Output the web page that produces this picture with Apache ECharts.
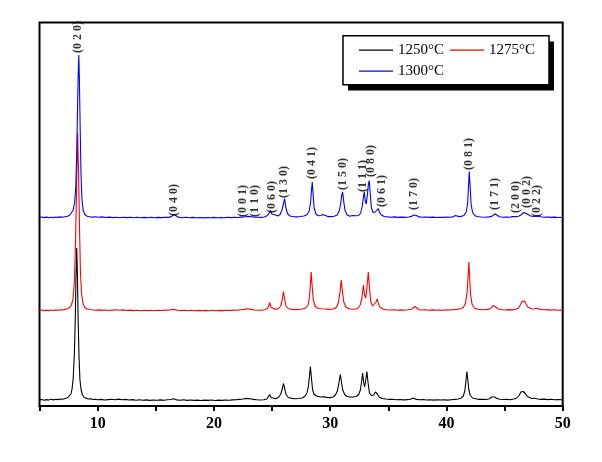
<!DOCTYPE html>
<html>
<head>
<meta charset="utf-8">
<script src="https://cdn.jsdelivr.net/npm/echarts@6/dist/echarts.min.js"></script>
<style>
html,body{margin:0;padding:0;background:#fff;}
#chart{width:602px;height:462px;}
</style>
</head>
<body>
<div id="chart"></div>
<script>
// ---- data (2θ in degrees, intensity in arbitrary units) ----
const seriesNames = ['1250°C', '1275°C', '1300°C'];
const seriesColors = ['#000000', '#ff0000', '#0000ff'];
const seriesOffsets = [4, 94, 187];

const pattern1250 = [[5.0,2],[5.2,2.6],[5.4,1.8],[5.6,2.4],[5.8,2],[6.0,2.7],[6.2,2.1],[6.4,2.8],[6.6,2.4],[6.8,3],[7.0,2.8],[7.2,3.5],[7.4,4.2],[7.55,5.5],[7.7,8],[7.8,13],[7.9,24],[8.0,48],[8.08,85],[8.14,125],[8.2,154],[8.26,128],[8.32,85],[8.4,45],[8.48,22],[8.58,12],[8.7,7],[8.85,4.5],[9.0,3.8],[9.2,3],[9.4,3.2],[9.6,2.5],[9.8,2.8],[10.0,2.2],[10.3,2.6],[10.6,2],[10.9,2.4],[11.2,2.8],[11.5,2.2],[11.8,2.9],[12.1,2.3],[12.4,2.6],[12.7,2],[13.0,2.4],[13.3,1.8],[13.6,2.2],[13.9,1.7],[14.2,2.1],[14.5,1.6],[14.8,2],[15.1,1.7],[15.4,2.1],[15.7,1.8],[16.0,2.3],[16.3,2.5],[16.55,3.2],[16.8,2.1],[17.1,1.8],[17.4,2.2],[17.7,1.6],[18.0,2],[18.3,1.6],[18.6,1.9],[18.9,1.5],[19.2,1.9],[19.5,1.6],[19.8,2],[20.1,1.5],[20.4,1.9],[20.7,1.6],[21.0,2],[21.3,1.7],[21.6,2.1],[21.9,2.2],[22.2,2.6],[22.5,3],[22.8,3.6],[23.1,3.2],[23.4,2.6],[23.7,2.2],[24.0,2],[24.3,2.3],[24.55,3],[24.7,5],[24.8,7.5],[24.9,4.5],[25.05,3],[25.3,3.2],[25.55,4.5],[25.75,8],[25.9,14],[25.98,18.5],[26.08,14],[26.2,7.5],[26.4,4.5],[26.7,3.6],[27.0,3.2],[27.3,3.5],[27.6,4],[27.85,6],[28.0,9],[28.12,15],[28.22,26],[28.3,35.5],[28.38,25],[28.48,13],[28.6,8],[28.8,6],[29.0,5.5],[29.2,5],[29.45,5.3],[29.7,4.6],[30.0,4.4],[30.25,5],[30.45,7],[30.62,11],[30.75,19],[30.87,27.5],[30.97,20],[31.08,12],[31.25,7.5],[31.45,5.5],[31.7,5],[32.0,5],[32.25,5.5],[32.45,7.5],[32.6,12],[32.7,20],[32.79,29],[32.88,20],[32.96,15],[33.05,21],[33.16,30.5],[33.26,19],[33.38,9],[33.55,6.5],[33.75,7],[33.88,10],[33.96,11.5],[34.06,8],[34.2,5],[34.45,3.5],[34.8,3],[35.1,2.6],[35.4,2.8],[35.7,2.3],[36.0,2.5],[36.3,2.1],[36.6,2.4],[36.9,2.8],[37.14,4],[37.4,2.6],[37.7,2.2],[38.0,2.5],[38.3,2],[38.6,2.3],[38.9,1.9],[39.2,2.3],[39.5,2],[39.8,2.2],[40.1,1.9],[40.4,2.3],[40.7,2.6],[41.0,3],[41.25,3.8],[41.45,6],[41.58,11],[41.68,21],[41.76,30.5],[41.84,22],[41.93,12],[42.05,6.5],[42.25,4],[42.5,3.2],[42.8,2.6],[43.1,2.8],[43.4,2.5],[43.7,3.2],[43.9,5],[44.02,6.5],[44.15,5],[44.35,3.5],[44.6,2.8],[44.9,2.5],[45.2,2.8],[45.5,2.3],[45.8,3],[46.05,4],[46.25,6.5],[46.4,10],[46.5,12],[46.6,10.5],[46.7,11],[46.82,8],[46.95,5.5],[47.15,4.5],[47.35,3.5],[47.6,3.8],[47.85,3],[48.1,2.6],[48.4,2.9],[48.7,2.4],[49.0,2.7],[49.3,2.2],[49.6,2.5],[50.0,2.2]];

const pattern1275 = [[5.0,1.5],[5.2,2],[5.4,1.3],[5.6,1.9],[5.8,1.4],[6.0,2],[6.2,1.5],[6.4,2.1],[6.6,1.7],[6.8,2.2],[7.0,2],[7.2,2.6],[7.4,3.2],[7.6,4.5],[7.75,7],[7.88,13],[8.0,30],[8.1,70],[8.2,130],[8.28,179],[8.36,140],[8.44,85],[8.52,40],[8.62,18],[8.75,8],[8.9,4.5],[9.1,3],[9.3,2.5],[9.5,2.2],[9.8,1.8],[10.1,2.1],[10.4,1.6],[10.7,2],[11.0,1.5],[11.3,1.9],[11.6,2.2],[11.9,1.7],[12.2,2.1],[12.5,1.5],[12.8,1.9],[13.1,1.4],[13.4,1.8],[13.7,1.3],[14.0,1.7],[14.3,1.4],[14.6,1.8],[14.9,1.3],[15.2,1.7],[15.5,1.5],[15.8,1.9],[16.1,1.8],[16.35,2.5],[16.5,3.5],[16.65,2.4],[16.9,1.7],[17.2,1.4],[17.5,1.8],[17.8,1.3],[18.1,1.7],[18.4,1.3],[18.7,1.6],[19.0,1.2],[19.3,1.6],[19.6,1.3],[19.9,1.7],[20.2,1.3],[20.5,1.6],[20.8,1.4],[21.1,1.8],[21.4,1.5],[21.7,1.9],[22.0,1.7],[22.3,2.2],[22.6,2.6],[22.9,3.2],[23.2,2.6],[23.5,2],[23.8,1.8],[24.1,1.7],[24.35,2.2],[24.6,3.5],[24.72,6],[24.8,9.5],[24.9,5],[25.05,3],[25.3,2.6],[25.55,3.5],[25.75,6],[25.88,12],[25.98,20.5],[26.08,13],[26.2,6],[26.4,3.5],[26.7,2.6],[27.0,2.4],[27.3,2.6],[27.6,3],[27.9,4],[28.1,7],[28.22,15],[28.3,28],[28.37,40],[28.45,26],[28.55,12],[28.7,6],[28.9,4],[29.1,3.5],[29.3,3.2],[29.45,4],[29.6,3],[29.85,2.6],[30.1,2.8],[30.35,3.2],[30.55,5],[30.72,10],[30.85,20],[30.95,32],[31.05,21],[31.17,10],[31.35,5],[31.6,3.2],[31.9,2.8],[32.2,3],[32.4,4],[32.58,7],[32.72,13],[32.86,27],[32.96,17],[33.06,14],[33.16,24],[33.28,40],[33.38,24],[33.5,10],[33.65,6],[33.82,7.5],[33.95,10],[34.05,13],[34.15,8],[34.3,4.5],[34.55,2.8],[34.9,2.3],[35.2,2],[35.5,2.3],[35.8,1.8],[36.1,2.1],[36.4,1.8],[36.7,2.2],[37.0,2.8],[37.15,3.8],[37.28,5.5],[37.42,3.5],[37.65,2.3],[37.9,2],[38.2,2.2],[38.5,1.8],[38.8,2.1],[39.1,1.7],[39.4,2],[39.7,1.8],[40.0,2.1],[40.3,2],[40.6,2.4],[40.9,2.6],[41.2,3.2],[41.45,4.5],[41.65,9],[41.78,20],[41.86,35],[41.93,50],[42.0,33],[42.08,17],[42.2,8],[42.4,4],[42.7,2.8],[43.0,2.4],[43.3,2.2],[43.6,2.6],[43.85,4],[44.0,6.5],[44.12,8.2],[44.24,5],[44.45,3],[44.75,2.3],[45.05,2],[45.35,2.4],[45.65,2.1],[45.95,2.8],[46.2,4],[46.38,7.5],[46.5,10.5],[46.6,9.5],[46.72,11],[46.85,8],[47.0,5],[47.2,3.8],[47.4,3],[47.6,3.2],[47.82,3.8],[48.05,2.6],[48.35,2.2],[48.65,2.4],[48.95,1.9],[49.25,2.2],[49.55,1.8],[49.8,2],[50.0,1.8]];

const pattern1300 = [[5.0,1.5],[5.2,2],[5.4,1.4],[5.6,1.9],[5.8,1.3],[6.0,1.8],[6.2,1.4],[6.4,2],[6.6,1.6],[6.8,2.1],[7.0,1.8],[7.2,2.3],[7.4,2.8],[7.6,3.8],[7.75,5.5],[7.9,9],[8.02,16],[8.12,32],[8.2,65],[8.27,110],[8.33,145],[8.38,164],[8.43,140],[8.5,90],[8.57,45],[8.65,20],[8.75,9],[8.9,4.5],[9.1,2.8],[9.3,2.3],[9.5,1.9],[9.8,2.2],[10.1,1.7],[10.4,2.1],[10.7,1.5],[11.0,1.9],[11.3,1.4],[11.6,1.8],[11.9,1.3],[12.2,1.7],[12.5,1.4],[12.8,1.8],[13.1,1.3],[13.4,1.7],[13.7,1.2],[14.0,1.6],[14.3,1.3],[14.6,1.7],[14.9,1.2],[15.2,1.6],[15.5,1.4],[15.8,1.8],[16.1,1.6],[16.35,2.4],[16.55,4.5],[16.72,2.5],[17.0,1.6],[17.3,1.3],[17.6,1.7],[17.9,1.2],[18.2,1.6],[18.5,1.2],[18.8,1.5],[19.1,1.1],[19.4,1.5],[19.7,1.2],[20.0,1.6],[20.3,1.2],[20.6,1.5],[20.9,1.3],[21.2,1.7],[21.5,1.4],[21.8,1.8],[22.1,1.5],[22.4,1.9],[22.7,2.2],[23.0,2.6],[23.25,2.2],[23.5,1.8],[23.8,1.7],[24.1,1.6],[24.35,2],[24.6,3.5],[24.75,6],[24.87,8.5],[24.98,5],[25.12,3.5],[25.3,4],[25.5,3],[25.7,4.5],[25.85,9],[25.98,15],[26.08,20.5],[26.18,12],[26.32,5.5],[26.55,3],[26.85,2.3],[27.15,2.1],[27.45,2.5],[27.75,3],[28.0,4.2],[28.2,8],[28.32,17],[28.4,30],[28.46,37],[28.53,25],[28.62,11],[28.78,5],[28.98,3.2],[29.2,3.5],[29.38,4.5],[29.55,3],[29.8,2.4],[30.1,2.4],[30.35,2.8],[30.6,4],[30.78,8],[30.9,15],[31.0,24],[31.07,27],[31.15,19],[31.27,9],[31.45,4],[31.7,2.8],[31.9,3.5],[32.04,4.5],[32.2,3.2],[32.45,3.5],[32.62,6],[32.76,13],[32.86,22],[32.93,27],[33.02,18],[33.1,15],[33.2,24],[33.29,35],[33.36,38.5],[33.44,26],[33.55,11],[33.7,6.5],[33.88,7],[34.02,9],[34.13,10.5],[34.24,7],[34.4,4],[34.65,2.5],[34.95,2.1],[35.25,1.8],[35.55,2.1],[35.85,1.6],[36.15,1.9],[36.45,1.6],[36.75,2],[37.0,2.6],[37.18,4],[37.3,5.2],[37.42,3.5],[37.65,2.1],[37.95,1.8],[38.25,2],[38.55,1.6],[38.85,1.9],[39.15,1.5],[39.45,1.8],[39.75,1.6],[40.05,1.9],[40.35,1.8],[40.6,2.4],[40.8,3.5],[41.0,2.6],[41.25,2.4],[41.5,3.5],[41.7,7],[41.82,15],[41.9,33],[41.96,47.5],[42.03,34],[42.12,15],[42.25,6.5],[42.45,3.3],[42.75,2.3],[43.05,2],[43.35,1.8],[43.65,2.1],[43.9,2.6],[44.05,4],[44.19,5.2],[44.32,3.5],[44.55,2.2],[44.85,1.8],[45.15,2],[45.45,1.7],[45.65,2.5],[45.8,3],[45.95,2.4],[46.2,2.8],[46.4,4],[46.55,5.5],[46.65,6.5],[46.74,7.2],[46.86,5.5],[47.0,3.8],[47.2,3.2],[47.45,2.5],[47.7,2.8],[47.9,3],[48.1,2.3],[48.4,1.8],[48.7,2],[49.0,1.6],[49.3,1.9],[49.6,1.5],[50.0,1.7]];

// Miller-index annotations above the 1300°C pattern
const hklNames  = ['(0 2 0)','(0 4 0)','(0 0 1)','(1 1 0)','(0 6 0)','(1 3 0)','(0 4 1)','(1 5 0)','(1 1 1)','(0 8 0)','(0 6 1)','(1 7 0)','(0 8 1)','(1 7 1)','(2 0 0)','(0 0 2)','(0 2 2)'];
const hklAngles = [8.33, 16.57, 22.52, 23.49, 24.97, 26.05, 28.46, 31.07, 32.84, 33.5, 34.42, 37.23, 41.96, 44.17, 45.97, 46.89, 47.75];
const hklLabelY = [353, 190, 189, 189, 193, 208, 227, 216, 214, 229, 199, 196, 236, 196, 193, 198, 189];

// x-axis ticks
const xMin = 5, xMax = 50, xTickStep = 5, xLabelStep = 10;

// ---- chart ----
const patterns = [pattern1250, pattern1275, pattern1300];
const serif = "'Times New Roman', 'Liberation Serif', serif";

const lineSeries = patterns.map((p, i) => ({
  name: seriesNames[i],
  type: 'line',
  data: p.map(d => [d[0], d[1] + seriesOffsets[i]]),
  symbol: 'none',
  showSymbol: false,
  smooth: false,
  lineStyle: { color: seriesColors[i], width: 1.1 },
  itemStyle: { color: seriesColors[i] },
  silent: true,
  z: 2 + i
}));

const labelSeries = {
  type: 'scatter',
  data: hklAngles.map((a, i) => ({ value: [a, hklLabelY[i]], name: hklNames[i] })),
  symbolSize: 0,
  silent: true,
  z: 10,
  label: {
    show: true,
    position: 'inside',
    rotate: 90,
    align: 'left',
    verticalAlign: 'middle',
    formatter: p => p.name,
    fontFamily: serif,
    fontWeight: 'bold',
    fontSize: 12,
    color: '#000'
  }
};

const chart = echarts.init(document.getElementById('chart'), null, { renderer: 'canvas' });
chart.setOption({
  animation: false,
  backgroundColor: '#fff',
  grid: {
    left: 39.5, right: 39.3, top: 22.5, bottom: 56,
    show: true, borderColor: '#000', borderWidth: 2, backgroundColor: 'transparent'
  },
  graphic: [
    { type: 'rect', z: 20, silent: true,
      shape: { x: 348, y: 41.5, width: 206, height: 49 },
      style: { fill: '#000' } },
    { type: 'rect', z: 21, silent: true,
      shape: { x: 343, y: 35.7, width: 206, height: 49 },
      style: { fill: '#fff', stroke: '#000', lineWidth: 1.5 } }
  ],
  legend: {
    data: seriesNames,
    z: 30,
    left: 343, top: 35.7,
    orient: 'horizontal',
    width: 230,
    padding: [7, 14, 4, 16],
    itemWidth: 34, itemHeight: 16, itemGap: 6,
    icon: 'path://M0,0L34,0L34,1.3L0,1.3Z',
    backgroundColor: 'transparent',
    borderWidth: 0,
    textStyle: { fontFamily: serif, fontSize: 15, color: '#000' },
    selectedMode: false
  },
  xAxis: {
    type: 'value', min: xMin, max: xMax, interval: xTickStep,
    axisLine: { onZero: false, lineStyle: { color: '#000', width: 2 } },
    axisTick: { show: true, inside: false, length: 5, lineStyle: { color: '#000', width: 2 } },
    axisLabel: {
      margin: 10,
      formatter: v => (v % xLabelStep === 0 ? String(v) : ''),
      fontFamily: serif, fontWeight: 'bold', fontSize: 16, color: '#000'
    },
    splitLine: { show: false }
  },
  yAxis: {
    type: 'value', min: 0, max: 383.5, show: false,
    splitLine: { show: false }
  },
  series: lineSeries.concat([labelSeries])
});
</script>
</body>
</html>
